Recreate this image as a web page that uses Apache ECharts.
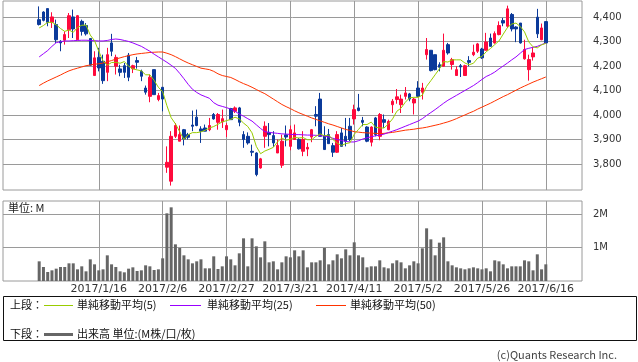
<!DOCTYPE html>
<html><head><meta charset="utf-8">
<script src="https://cdn.jsdelivr.net/npm/echarts@6/dist/echarts.min.js"></script>
<style>html,body{margin:0;padding:0;background:#fff}#c{width:638px;height:362px}</style>
</head><body><div id="c"></div>
<script>
const padBefore = ['2016/12/9','2016/12/12','2016/12/13','2016/12/14','2016/12/15','2016/12/16','2016/12/19','2016/12/20'];
const dates = ['2016/12/21','2016/12/22','2016/12/26','2016/12/27','2016/12/28','2016/12/29','2016/12/30',
'2017/1/4','2017/1/5','2017/1/6','2017/1/10','2017/1/11','2017/1/12','2017/1/13','2017/1/16','2017/1/17','2017/1/18','2017/1/19','2017/1/20','2017/1/23','2017/1/24','2017/1/25','2017/1/26','2017/1/27','2017/1/30','2017/1/31',
'2017/2/1','2017/2/2','2017/2/3','2017/2/6','2017/2/7','2017/2/8','2017/2/9','2017/2/10','2017/2/13','2017/2/14','2017/2/15','2017/2/16','2017/2/17','2017/2/20','2017/2/21','2017/2/22','2017/2/23','2017/2/24','2017/2/27','2017/2/28',
'2017/3/1','2017/3/2','2017/3/3','2017/3/6','2017/3/7','2017/3/8','2017/3/9','2017/3/10','2017/3/13','2017/3/14','2017/3/15','2017/3/16','2017/3/17','2017/3/21','2017/3/22','2017/3/23','2017/3/24','2017/3/27','2017/3/28','2017/3/29','2017/3/30','2017/3/31',
'2017/4/3','2017/4/4','2017/4/5','2017/4/6','2017/4/7','2017/4/10','2017/4/11','2017/4/12','2017/4/13','2017/4/14','2017/4/17','2017/4/18','2017/4/19','2017/4/20','2017/4/21','2017/4/24','2017/4/25','2017/4/26','2017/4/27','2017/4/28',
'2017/5/1','2017/5/2','2017/5/8','2017/5/9','2017/5/10','2017/5/11','2017/5/12','2017/5/15','2017/5/16','2017/5/17','2017/5/18','2017/5/19','2017/5/22','2017/5/23','2017/5/24','2017/5/25','2017/5/26','2017/5/29','2017/5/30','2017/5/31',
'2017/6/1','2017/6/2','2017/6/5','2017/6/6','2017/6/7','2017/6/8','2017/6/9','2017/6/12','2017/6/13','2017/6/14','2017/6/15','2017/6/16'];
const padAfter = ['2017/6/19','2017/6/20','2017/6/21','2017/6/22','2017/6/23','2017/6/26','2017/6/27','2017/6/28'];

const opens = [4389,4420,4434,4378,4369,4301,4305,4348,4400,4307,4382,4365,4312,4161,4235,4219,4174,4294,4199,4188,
4201,4244,4189,4222,4178,4110,4076,4185,4063,4113,3787,3730,3913,3893,3940,3920,3959,3991,3943,3947,
3940,4002,3970,3972,3940,4026,4015,4029,3920,3913,3852,3845,3784,3913,3929,3916,3845,3795,3919,3872,
3900,3900,3852,3861,3910,4002,4065,3916,3920,3875,3848,3927,3913,3954,3984,4029,3978,3951,3889,3988,
3913,3981,3940,4042,4063,4042,4076,4086,4049,4110,4093,4246,4264,4246,4205,4199,4287,4206,4161,4201,
4161,4222,4246,4260,4269,4264,4314,4294,4328,4385,4362,4410,4359,4375,4229,4185,4237,4399,4307,4381];
const closes = [4369,4386,4378,4400,4307,4294,4328,4405,4351,4405,4341,4331,4203,4233,4192,4140,4246,4260,4235,4174,
4174,4154,4201,4215,4158,4093,4154,4083,4079,4065,3807,3913,3957,3920,3902,3909,3954,3957,3934,3934,
3957,3984,4002,3985,3957,3981,4029,3970,3900,3886,3848,3757,3821,3954,3920,3886,3876,3893,3910,3940,
3927,3862,3900,3868,3940,3995,3913,3859,3883,3848,3920,3872,3893,3900,4022,4018,3970,3893,3951,3920,
4002,3970,3974,4056,4074,4065,4090,4065,4065,4076,4110,4267,4181,4185,4195,4264,4253,4226,4185,4196,
4201,4215,4256,4290,4233,4298,4280,4332,4365,4375,4433,4351,4351,4294,4267,4226,4253,4331,4355,4294];
const lows = [4365,4382,4362,4355,4294,4260,4287,4314,4314,4305,4324,4324,4201,4161,4178,4127,4138,4240,4165,4158,
4151,4138,4171,4189,4138,4083,4052,4083,4056,4015,3764,3712,3906,3893,3876,3900,3934,3954,3886,3934,
3934,3981,3940,3947,3910,3981,4008,3954,3866,3879,3832,3750,3781,3866,3872,3870,3845,3784,3872,3856,
3900,3859,3832,3832,3889,3954,3913,3859,3883,3829,3845,3872,3872,3893,3961,4015,3954,3889,3872,3913,
3897,3947,3938,4008,4046,4008,4063,4056,4002,4074,4063,4226,4178,4182,4178,4199,4246,4185,4161,4155,
4161,4199,4240,4253,4229,4264,4280,4291,4325,4362,4355,4341,4297,4291,4226,4140,4222,4314,4305,4294];
const highs = [4443,4423,4434,4419,4389,4305,4341,4416,4430,4408,4389,4375,4312,4260,4274,4246,4274,4331,4246,4205,
4212,4253,4205,4237,4185,4120,4165,4185,4090,4113,3872,3934,3967,3957,3943,3927,4018,4022,3954,3961,
3988,4008,4008,4022,3967,4029,4035,4033,3934,3929,3879,3848,3825,3974,3967,3934,3900,3920,3957,3957,
3961,3906,3934,3886,3943,4036,4090,3954,3943,3886,3934,3947,3988,3988,4042,4086,3992,3954,3954,3992,
4008,4002,3981,4065,4106,4083,4114,4090,4070,4138,4131,4314,4264,4246,4215,4332,4294,4233,4199,4208,
4205,4240,4287,4294,4274,4335,4332,4341,4382,4396,4446,4416,4362,4375,4307,4246,4274,4433,4373,4381];

const volumes = [0.59,0.42,0.27,0.32,0.37,0.42,0.42,0.53,0.53,0.35,
0.44,0.29,0.65,0.50,0.32,0.35,0.77,0.50,0.42,0.29,
0.26,0.37,0.41,0.30,0.32,0.47,0.44,0.33,0.35,0.68,
2.03,2.21,1.10,0.99,0.77,0.65,0.53,0.59,0.65,0.38,
0.38,0.74,0.36,0.44,0.74,0.65,0.47,0.83,1.28,0.44,
1.28,1.04,0.71,1.19,0.56,0.59,0.35,0.56,0.74,0.71,
0.92,0.74,0.92,0.41,0.56,0.56,0.62,0.99,0.50,0.62,
0.80,0.68,0.95,0.77,1.16,0.77,0.71,0.41,0.44,0.44,
0.62,0.41,0.38,0.53,0.62,0.56,0.38,0.47,0.59,0.53,
0.98,1.58,1.25,0.77,1.15,1.31,0.59,0.47,0.41,0.38,
0.35,0.38,0.41,0.38,0.35,0.38,0.29,0.62,0.59,0.50,
0.38,0.44,0.44,0.44,0.62,0.59,0.32,0.80,0.35,0.50];

const ma5 = [4355,4365,4378,4378,4368,4353,4341,4347,4337,4357,4366,4367,4326,4303,4260,4220,4203,4214,4215,4211,
4218,4199,4188,4184,4180,4164,4164,4141,4113,4095,4038,3989,3964,3932,3900,3920,3928,3928,3931,3938,
3947,3953,3962,3972,3977,3982,3991,3984,3967,3953,3927,3872,3842,3853,3860,3868,3891,3906,3897,3901,
3909,3906,3908,3899,3899,3913,3923,3915,3918,3900,3885,3876,3883,3887,3921,3941,3961,3961,3971,3950,
3947,3947,3963,3984,4015,4028,4052,4070,4072,4072,4081,4117,4140,4164,4188,4218,4216,4225,4225,4225,
4212,4205,4211,4232,4239,4258,4271,4287,4302,4330,4357,4371,4375,4361,4339,4298,4278,4274,4286,4292];
const ma25 = [4237,4250,4263,4280,4295,4299,4302,4302,4303,4304,4305,4305,4304,4303,4302,4302,4304,4308,4310,4308,
4304,4300,4294,4287,4280,4270,4260,4248,4237,4226,4215,4203,4190,4170,4148,4125,4105,4092,4082,4075,
4068,4050,4040,4035,4030,4024,4015,4004,3995,3985,3975,3960,3945,3932,3929,3927,3925,3923,3922,3921,
3920,3920,3919,3918,3918,3917,3916,3914,3910,3905,3900,3896,3892,3890,3890,3895,3902,3907,3911,3915,
3918,3922,3928,3934,3940,3947,3954,3961,3968,3975,3985,3998,4010,4022,4035,4048,4060,4070,4080,4090,
4100,4110,4120,4132,4145,4157,4165,4175,4188,4200,4212,4225,4237,4252,4267,4272,4276,4280,4287,4294];
const ma50 = [4120,4130,4139,4147,4155,4163,4172,4180,4186,4191,4196,4201,4204,4207,4209,4212,4217,4222,4228,4233,
4238,4242,4246,4249,4251,4253,4255,4256,4257,4257,4252,4246,4238,4229,4220,4212,4205,4198,4191,4188,
4185,4178,4168,4161,4157,4153,4145,4136,4128,4121,4113,4104,4095,4087,4076,4065,4054,4043,4034,4026,
4017,4009,4002,3995,3988,3982,3976,3970,3964,3959,3953,3947,3941,3937,3932,3930,3928,3927,3926,3925,
3924,3925,3927,3929,3932,3935,3938,3940,3942,3945,3947,3950,3954,3958,3962,3967,3972,3978,3985,3993,
4000,4008,4015,4024,4032,4040,4048,4057,4066,4075,4083,4092,4101,4110,4118,4126,4134,4141,4148,4155];

const tickDates = ['2017/1/16','2017/2/6','2017/2/27','2017/3/21','2017/4/11','2017/5/2','2017/5/26','2017/6/16'];
const priceTicks = [3800,3900,4000,4100,4200,4300,4400];
const volumeTicks = [1,2];

const categories = padBefore.concat(dates, padAfter);
const blankB = padBefore.map(() => '-');
const blankA = padAfter.map(() => '-');
const padded = a => blankB.concat(a, blankA);
const candles = blankB.concat(dates.map((d, i) => [opens[i], closes[i], lows[i], highs[i]]), blankA);
const isTick = (idx) => tickDates.indexOf(categories[idx]) >= 0;

const GRID = '#9a9a9a';
const numFont = 'DejaVu Sans';
const jpFont = '"Noto Sans CJK JP", sans-serif';

const chart = echarts.init(document.getElementById('c'), null, {renderer: 'canvas'});
const xBase = (gi, showLabel) => ({
  type: 'category', gridIndex: gi, data: categories, boundaryGap: true,
  axisLine: {show: false}, axisTick: {show: false},
  axisLabel: {show: showLabel, interval: isTick, margin: 3, fontSize: 11, fontFamily: numFont, color: '#333'},
  splitLine: {show: true, interval: isTick, alignWithLabel: true, lineStyle: {color: GRID, width: 1}}
});
chart.setOption({
  animation: false,
  backgroundColor: '#fff',
  grid: [
    {left: 3, top: 1, width: 579, height: 189, show: true, borderColor: GRID, borderWidth: 1},
    {left: 3, top: 201, width: 579, height: 80, show: true, borderColor: GRID, borderWidth: 1}
  ],
  xAxis: [xBase(0, false), xBase(1, true)],
  yAxis: [
    {type: 'value', gridIndex: 0, position: 'right', min: 3694, max: 4465, scale: true,
     axisLine: {show: false}, axisTick: {show: false, customValues: priceTicks},
     axisLabel: {customValues: priceTicks, margin: 11, fontSize: 10, fontFamily: numFont, color: '#333',
       formatter: v => Number(v).toLocaleString('en-US')},
     splitLine: {show: true, lineStyle: {color: GRID, width: 1}}},
    {type: 'value', gridIndex: 1, position: 'right', min: 0, max: 2.4,
     axisLine: {show: false}, axisTick: {show: false, customValues: volumeTicks},
     axisLabel: {customValues: volumeTicks, margin: 11, fontSize: 10, fontFamily: numFont, color: '#333',
       formatter: v => v + 'M'},
     splitLine: {show: true, lineStyle: {color: GRID, width: 1}}}
  ],
  series: [
    {type: 'candlestick', xAxisIndex: 0, yAxisIndex: 0, data: candles, barWidth: 3, silent: true, z: 2,
     itemStyle: {color: '#ff0a3c', color0: '#0b3a9a', borderColor: '#ff0a3c', borderColor0: '#0b3a9a', borderWidth: 1}},
    {type: 'line', xAxisIndex: 0, yAxisIndex: 0, data: padded(ma50), showSymbol: false, symbol: 'none', silent: true, z: 3,
     lineStyle: {color: '#ff3300', width: 1}},
    {type: 'line', xAxisIndex: 0, yAxisIndex: 0, data: padded(ma25), showSymbol: false, symbol: 'none', silent: true, z: 3,
     lineStyle: {color: '#9900ff', width: 1}},
    {type: 'line', xAxisIndex: 0, yAxisIndex: 0, data: padded(ma5), showSymbol: false, symbol: 'none', silent: true, z: 3,
     lineStyle: {color: '#99cc00', width: 1}},
    {type: 'bar', xAxisIndex: 1, yAxisIndex: 1, data: padded(volumes), barWidth: 3, silent: true,
     itemStyle: {color: '#666666'}}
  ],
  graphic: [
    {type: 'text', x: 8, y: 208, style: {text: '単位: M', font: '11px ' + jpFont, fill: '#222', verticalAlign: 'middle'}},
    {type: 'rect', shape: {x: 3.5, y: 296.5, width: 633, height: 44}, style: {fill: 'none', stroke: '#111', lineWidth: 1}},
    {type: 'text', x: 10, y: 305, style: {text: '上段：', font: '11px ' + jpFont, fill: '#111', verticalAlign: 'middle'}},
    {type: 'line', shape: {x1: 44, y1: 305.5, x2: 73, y2: 305.5}, style: {stroke: '#99cc00', lineWidth: 1}},
    {type: 'text', x: 77, y: 305, style: {text: '単純移動平均(5)', font: '11px ' + jpFont, fill: '#111', verticalAlign: 'middle'}},
    {type: 'line', shape: {x1: 170, y1: 305.5, x2: 201, y2: 305.5}, style: {stroke: '#9900ff', lineWidth: 1}},
    {type: 'text', x: 207, y: 305, style: {text: '単純移動平均(25)', font: '11px ' + jpFont, fill: '#111', verticalAlign: 'middle'}},
    {type: 'line', shape: {x1: 316, y1: 305.5, x2: 346, y2: 305.5}, style: {stroke: '#ff3300', lineWidth: 1}},
    {type: 'text', x: 350, y: 305, style: {text: '単純移動平均(50)', font: '11px ' + jpFont, fill: '#111', verticalAlign: 'middle'}},
    {type: 'text', x: 10, y: 334, style: {text: '下段：', font: '11px ' + jpFont, fill: '#111', verticalAlign: 'middle'}},
    {type: 'line', shape: {x1: 44, y1: 334.5, x2: 73, y2: 334.5}, style: {stroke: '#666666', lineWidth: 3}},
    {type: 'text', x: 77, y: 334, style: {text: '出来高 単位:(M株/口/枚)', font: '11px ' + jpFont, fill: '#111', verticalAlign: 'middle'}},
    {type: 'text', x: 617, y: 355, style: {text: '(c)Quants Research Inc.', font: '11px ' + jpFont, fill: '#444', align: 'right', verticalAlign: 'middle'}}
  ]
});
</script></body></html>
